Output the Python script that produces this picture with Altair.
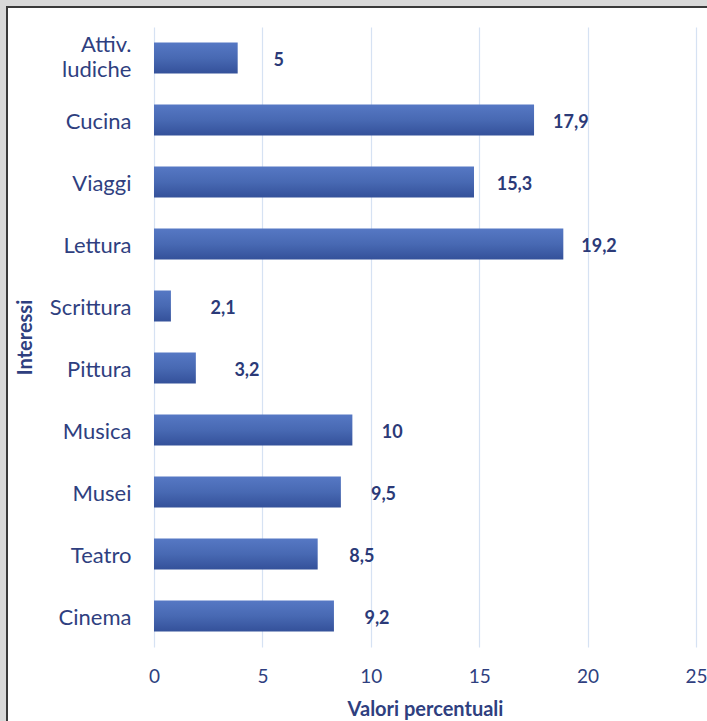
import altair as alt
import pandas as pd

# Categories (top to bottom as shown)
categories = ["Attiv.|ludiche", "Cucina", "Viaggi", "Lettura", "Scrittura",
              "Pittura", "Musica", "Musei", "Teatro", "Cinema"]
# Bar lengths as drawn in the picture
bar_lengths = [3.86, 17.53, 14.76, 18.88, 0.78, 1.93, 9.15, 8.62, 7.55, 8.3]
# Values written in the data labels
reported = [5, 17.9, 15.3, 19.2, 2.1, 3.2, 10, 9.5, 8.5, 9.2]
x_ticks = [0, 5, 10, 15, 20, 25]

df = pd.DataFrame({"cat": categories, "bar": bar_lengths, "rep": reported})

FONT = "Lato"
NAVY = "#2f3f7f"
W, H = 542, 620
PL, PT = 154, 27
NB = "\u00a0\u00a0\u00a0"

y_enc = alt.Y("cat:N", sort=categories,
              scale=alt.Scale(paddingInner=0.5, paddingOuter=0.25),
              axis=alt.Axis(title="Interessi",
                            labelExpr="split(replace(datum.label, '.|', '." + NB + "|'), '|')",
                            labelFont=FONT, labelFontSize=22, labelColor=NAVY,
                            labelPadding=23, labelLineHeight=25, labelAlign="right",
                            labelOffset=alt.condition("datum.value == 'Attiv.|ludiche'",
                                                      alt.value(-13), alt.value(2)),
                            ticks=False, domain=False, grid=False,
                            titleFont=FONT, titleFontSize=20, titleFontWeight="bold",
                            titleColor=NAVY, titleX=-119))

x_enc = alt.X("bar:Q", scale=alt.Scale(domain=[0, 25], nice=False),
              axis=alt.Axis(title="Valori percentuali", values=x_ticks,
                            labelFont=FONT, labelFontSize=19, labelColor=NAVY,
                            labelPadding=20, labelFlush=False, ticks=False, domain=False,
                            grid=True, gridColor="#d6e2f3", gridWidth=1.2,
                            titleFont=FONT, titleFontSize=20, titleFontWeight="bold",
                            titleColor=NAVY, titleY=52))

base = alt.Chart(df)

shadow = base.mark_bar(color="#000000", opacity=0.18).encode(
    x=x_enc, y=y_enc, yOffset=alt.value(2), x2=alt.X2("bar"))

grad = alt.Gradient(gradient="linear", x1=0, y1=0, x2=0, y2=1,
                    stops=[alt.GradientStop(color="#5678c4", offset=0),
                           alt.GradientStop(color="#4869b3", offset=0.5),
                           alt.GradientStop(color="#34519a", offset=1)])

bars = base.mark_bar(color=grad).encode(x=x_enc, y=y_enc)

labels = base.transform_calculate(
    txt="replace(toString(datum.rep), '.', ',')"
).mark_text(align="left", baseline="middle", dx=11, dy=3, font=FONT,
            fontSize=18, fontWeight="bold", color="#2b3a78").encode(
    x=alt.X("rep:Q"), y=alt.Y("cat:N", sort=categories), text="txt:N")

one = alt.Data(values=[{}])
strip_left = alt.Chart(one).mark_rect(fill="#d9d9d9").encode(
    x=alt.value(-PL), x2=alt.value(-PL + 6), y=alt.value(-PT), y2=alt.value(H + 80))
strip_top = alt.Chart(one).mark_rect(fill="#d9d9d9").encode(
    x=alt.value(-PL), x2=alt.value(W + 20), y=alt.value(-PT), y2=alt.value(-PT + 6))
border = alt.Chart(one).mark_rect(fill="transparent", stroke="#3a3a3a", strokeWidth=2).encode(
    x=alt.value(-PL + 7), x2=alt.value(W + 60), y=alt.value(-PT + 7), y2=alt.value(H + 120))

chart = alt.layer(strip_left, strip_top, border, shadow, bars, labels).properties(
    width=W, height=H,
    autosize=alt.AutoSizeParams(type="none"),
    padding={"left": PL, "top": PT, "right": 707 - PL - W, "bottom": 721 - PT - H},
    background="white",
).configure_view(stroke=None)

chart.save("out.html", embed_options={"renderer": "svg", "actions": False})
